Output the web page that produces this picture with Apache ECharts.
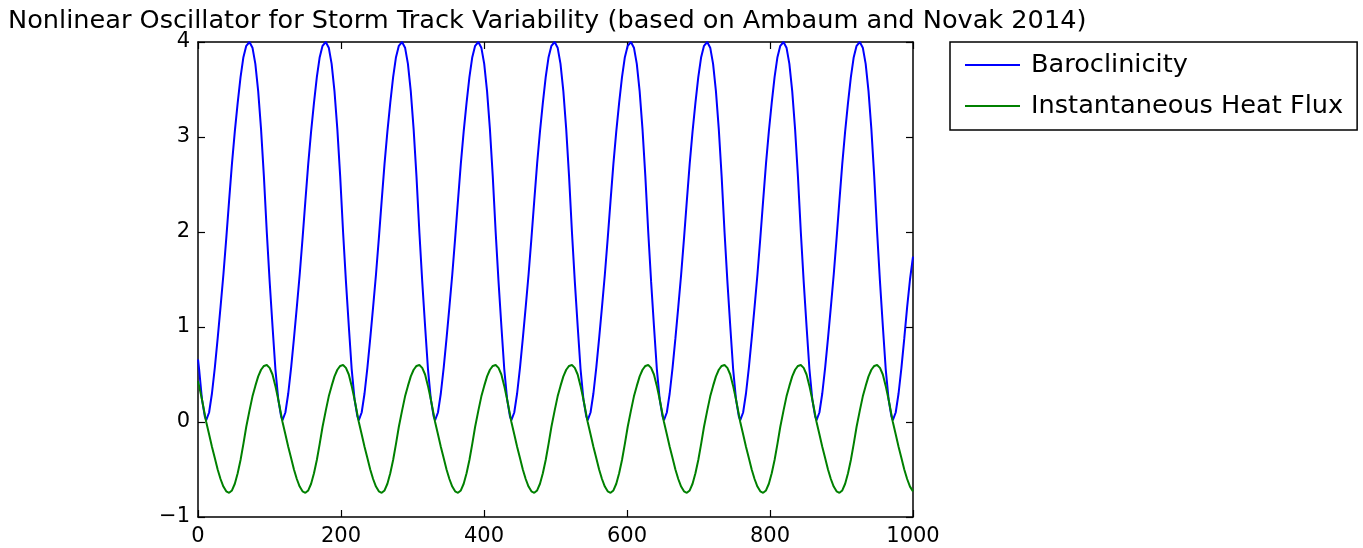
<!DOCTYPE html>
<html>
<head>
<meta charset="utf-8">
<script src="https://cdn.jsdelivr.net/npm/echarts@6/dist/echarts.min.js"></script>
<style>
  html, body { margin: 0; padding: 0; background: #fff; }
  #chart { width: 1363px; height: 548px; }
</style>
</head>
<body>
<div id="chart"></div>
<script>
// Sample positions along the time axis
const xs = [
  0, 1.5, 5.5, 9.5,
  11.5, 15.5, 19.5, 23.5, 27.5, 31.5, 35.5, 39.5, 43.5, 47.5, 51.5, 55.5, 59.5, 63.5, 67.5, 72, 76.2, 80.2, 84.2, 88.2, 92.2, 96.2, 100.2, 104.2, 108.2, 112.2, 116.2,
  118.2, 122.2, 126.2, 130.2, 134.2, 138.2, 142.2, 146.2, 150.2, 154.2, 158.2, 162.2, 166.2, 170.2, 174.2, 178.7, 182.9, 186.9, 190.9, 194.9, 198.9, 202.9, 206.9, 210.9, 214.9, 218.9, 222.9,
  224.9, 228.9, 232.9, 236.9, 240.9, 244.9, 248.9, 252.9, 256.9, 260.9, 264.9, 268.9, 272.9, 276.9, 280.9, 285.4, 289.6, 293.6, 297.6, 301.6, 305.6, 309.6, 313.6, 317.6, 321.6, 325.6, 329.6,
  331.6, 335.6, 339.6, 343.6, 347.6, 351.6, 355.6, 359.6, 363.6, 367.6, 371.6, 375.6, 379.6, 383.6, 387.6, 392.1, 396.3, 400.3, 404.3, 408.3, 412.3, 416.3, 420.3, 424.3, 428.3, 432.3, 436.3,
  438.3, 442.3, 446.3, 450.3, 454.3, 458.3, 462.3, 466.3, 470.3, 474.3, 478.3, 482.3, 486.3, 490.3, 494.3, 498.8, 503, 507, 511, 515, 519, 523, 527, 531, 535, 539, 543,
  545, 549, 553, 557, 561, 565, 569, 573, 577, 581, 585, 589, 593, 597, 601, 605.5, 609.7, 613.7, 617.7, 621.7, 625.7, 629.7, 633.7, 637.7, 641.7, 645.7, 649.7,
  651.7, 655.7, 659.7, 663.7, 667.7, 671.7, 675.7, 679.7, 683.7, 687.7, 691.7, 695.7, 699.7, 703.7, 707.7, 712.2, 716.4, 720.4, 724.4, 728.4, 732.4, 736.4, 740.4, 744.4, 748.4, 752.4, 756.4,
  758.4, 762.4, 766.4, 770.4, 774.4, 778.4, 782.4, 786.4, 790.4, 794.4, 798.4, 802.4, 806.4, 810.4, 814.4, 818.9, 823.1, 827.1, 831.1, 835.1, 839.1, 843.1, 847.1, 851.1, 855.1, 859.1, 863.1,
  865.1, 869.1, 873.1, 877.1, 881.1, 885.1, 889.1, 893.1, 897.1, 901.1, 905.1, 909.1, 913.1, 917.1, 921.1, 925.6, 929.8, 933.8, 937.8, 941.8, 945.8, 949.8, 953.8, 957.8, 961.8, 965.8, 969.8,
  971.8, 975.8, 979.8, 983.8, 987.8, 991.8, 995.8, 1000
];

// Baroclinicity (blue)
const baroclinicity = [
  0.66, 0.56, 0.24, 0.06,
  0.02, 0.10, 0.30, 0.57, 0.88, 1.21, 1.55, 1.93, 2.33, 2.72, 3.06, 3.36, 3.63, 3.84, 3.96, 4.00, 3.94, 3.77, 3.48, 3.08, 2.58, 2.00, 1.48, 1.01, 0.56, 0.24, 0.06,
  0.02, 0.10, 0.30, 0.57, 0.88, 1.21, 1.55, 1.93, 2.33, 2.72, 3.06, 3.36, 3.63, 3.84, 3.96, 4.00, 3.94, 3.77, 3.48, 3.08, 2.58, 2.00, 1.48, 1.01, 0.56, 0.24, 0.06,
  0.02, 0.10, 0.30, 0.57, 0.88, 1.21, 1.55, 1.93, 2.33, 2.72, 3.06, 3.36, 3.63, 3.84, 3.96, 4.00, 3.94, 3.77, 3.48, 3.08, 2.58, 2.00, 1.48, 1.01, 0.56, 0.24, 0.06,
  0.02, 0.10, 0.30, 0.57, 0.88, 1.21, 1.55, 1.93, 2.33, 2.72, 3.06, 3.36, 3.63, 3.84, 3.96, 4.00, 3.94, 3.77, 3.48, 3.08, 2.58, 2.00, 1.48, 1.01, 0.56, 0.24, 0.06,
  0.02, 0.10, 0.30, 0.57, 0.88, 1.21, 1.55, 1.93, 2.33, 2.72, 3.06, 3.36, 3.63, 3.84, 3.96, 4.00, 3.94, 3.77, 3.48, 3.08, 2.58, 2.00, 1.48, 1.01, 0.56, 0.24, 0.06,
  0.02, 0.10, 0.30, 0.57, 0.88, 1.21, 1.55, 1.93, 2.33, 2.72, 3.06, 3.36, 3.63, 3.84, 3.96, 4.00, 3.94, 3.77, 3.48, 3.08, 2.58, 2.00, 1.48, 1.01, 0.56, 0.24, 0.06,
  0.02, 0.10, 0.30, 0.57, 0.88, 1.21, 1.55, 1.93, 2.33, 2.72, 3.06, 3.36, 3.63, 3.84, 3.96, 4.00, 3.94, 3.77, 3.48, 3.08, 2.58, 2.00, 1.48, 1.01, 0.56, 0.24, 0.06,
  0.02, 0.10, 0.30, 0.57, 0.88, 1.21, 1.55, 1.93, 2.33, 2.72, 3.06, 3.36, 3.63, 3.84, 3.96, 4.00, 3.94, 3.77, 3.48, 3.08, 2.58, 2.00, 1.48, 1.01, 0.56, 0.24, 0.06,
  0.02, 0.10, 0.30, 0.57, 0.88, 1.21, 1.55, 1.93, 2.33, 2.72, 3.06, 3.36, 3.63, 3.84, 3.96, 4.00, 3.94, 3.77, 3.48, 3.08, 2.58, 2.00, 1.48, 1.01, 0.56, 0.24, 0.06,
  0.02, 0.10, 0.30, 0.57, 0.88, 1.21, 1.50, 1.74
];

// Instantaneous heat flux (green)
const heatFlux = [
  0.43, 0.38, 0.24, 0.08,
  0.00, -0.13, -0.26, -0.38, -0.50, -0.60, -0.68, -0.73, -0.745, -0.72, -0.65, -0.54, -0.40, -0.23, -0.05, 0.12, 0.27, 0.38, 0.48, 0.55, 0.59, 0.60, 0.57, 0.50, 0.38, 0.24, 0.08,
  0.00, -0.13, -0.26, -0.38, -0.50, -0.60, -0.68, -0.73, -0.745, -0.72, -0.65, -0.54, -0.40, -0.23, -0.05, 0.12, 0.27, 0.38, 0.48, 0.55, 0.59, 0.60, 0.57, 0.50, 0.38, 0.24, 0.08,
  0.00, -0.13, -0.26, -0.38, -0.50, -0.60, -0.68, -0.73, -0.745, -0.72, -0.65, -0.54, -0.40, -0.23, -0.05, 0.12, 0.27, 0.38, 0.48, 0.55, 0.59, 0.60, 0.57, 0.50, 0.38, 0.24, 0.08,
  0.00, -0.13, -0.26, -0.38, -0.50, -0.60, -0.68, -0.73, -0.745, -0.72, -0.65, -0.54, -0.40, -0.23, -0.05, 0.12, 0.27, 0.38, 0.48, 0.55, 0.59, 0.60, 0.57, 0.50, 0.38, 0.24, 0.08,
  0.00, -0.13, -0.26, -0.38, -0.50, -0.60, -0.68, -0.73, -0.745, -0.72, -0.65, -0.54, -0.40, -0.23, -0.05, 0.12, 0.27, 0.38, 0.48, 0.55, 0.59, 0.60, 0.57, 0.50, 0.38, 0.24, 0.08,
  0.00, -0.13, -0.26, -0.38, -0.50, -0.60, -0.68, -0.73, -0.745, -0.72, -0.65, -0.54, -0.40, -0.23, -0.05, 0.12, 0.27, 0.38, 0.48, 0.55, 0.59, 0.60, 0.57, 0.50, 0.38, 0.24, 0.08,
  0.00, -0.13, -0.26, -0.38, -0.50, -0.60, -0.68, -0.73, -0.745, -0.72, -0.65, -0.54, -0.40, -0.23, -0.05, 0.12, 0.27, 0.38, 0.48, 0.55, 0.59, 0.60, 0.57, 0.50, 0.38, 0.24, 0.08,
  0.00, -0.13, -0.26, -0.38, -0.50, -0.60, -0.68, -0.73, -0.745, -0.72, -0.65, -0.54, -0.40, -0.23, -0.05, 0.12, 0.27, 0.38, 0.48, 0.55, 0.59, 0.60, 0.57, 0.50, 0.38, 0.24, 0.08,
  0.00, -0.13, -0.26, -0.38, -0.50, -0.60, -0.68, -0.73, -0.745, -0.72, -0.65, -0.54, -0.40, -0.23, -0.05, 0.12, 0.27, 0.38, 0.48, 0.55, 0.59, 0.60, 0.57, 0.50, 0.38, 0.24, 0.08,
  0.00, -0.13, -0.26, -0.38, -0.50, -0.60, -0.68, -0.73
];

const xTicks = { min: 0, max: 1000, interval: 200 };
const yTicks = { min: -1, max: 4, interval: 1 };
const titleText = 'Nonlinear Oscillator for Storm Track Variability (based on Ambaum and Novak 2014)';
const seriesNames = ['Baroclinicity', 'Instantaneous Heat Flux'];

const FONT = 'DejaVu Sans';
const pairs = (ys) => xs.map((x, i) => [x, ys[i]]);

const axisCommon = {
  type: 'value',
  axisLine: { show: true, onZero: false, lineStyle: { color: '#000', width: 1.5 } },
  axisTick: { show: true, inside: true, length: 7, lineStyle: { color: '#000', width: 1.2 } },
  splitLine: { show: false },
};

const chart = echarts.init(document.getElementById('chart'), null, { renderer: 'canvas' });
chart.setOption({
  animation: false,
  backgroundColor: '#fff',
  title: {
    text: titleText,
    left: 3, top: 3,
    textStyle: { fontFamily: FONT, fontSize: 25.6, fontWeight: 'normal', color: '#000' }
  },
  legend: {
    orient: 'vertical',
    left: 950, top: 42,
    padding: [10, 14, 11, 15],
    itemGap: 15,
    itemWidth: 55, itemHeight: 2,
    icon: 'rect',
    borderColor: '#000', borderWidth: 1.5,
    textStyle: { fontFamily: FONT, fontSize: 25.6, color: '#000', padding: [0, 0, 0, 6] },
    data: seriesNames
  },
  grid: { left: 198, top: 42, width: 715, height: 475, containLabel: false },
  xAxis: [
    Object.assign({}, axisCommon, xTicks, {
      position: 'bottom',
      axisLabel: {
        show: true, color: '#000', fontFamily: FONT, fontSize: 21, margin: 9,
        formatter: (v) => String(v)
      }
    }),
    Object.assign({}, axisCommon, xTicks, {
      position: 'top',
      axisLabel: { show: false }
    })
  ],
  yAxis: [
    Object.assign({}, axisCommon, yTicks, {
      position: 'left',
      axisLabel: {
        show: true, color: '#000', fontFamily: FONT, fontSize: 21, margin: 8,
        formatter: (v) => String(v).replace('-', '\u2212')
      }
    }),
    Object.assign({}, axisCommon, yTicks, {
      position: 'right',
      axisLabel: { show: false }
    })
  ],
  series: [
    {
      name: seriesNames[0], type: 'line', xAxisIndex: 0, yAxisIndex: 0,
      data: pairs(baroclinicity),
      symbol: 'none', showSymbol: false, smooth: false, clip: true,
      lineStyle: { color: '#0000ff', width: 2 },
      itemStyle: { color: '#0000ff' }
    },
    {
      name: seriesNames[1], type: 'line', xAxisIndex: 0, yAxisIndex: 0,
      data: pairs(heatFlux),
      symbol: 'none', showSymbol: false, smooth: false, clip: true,
      lineStyle: { color: '#008000', width: 2 },
      itemStyle: { color: '#008000' }
    }
  ]
});
</script>
</body>
</html>
